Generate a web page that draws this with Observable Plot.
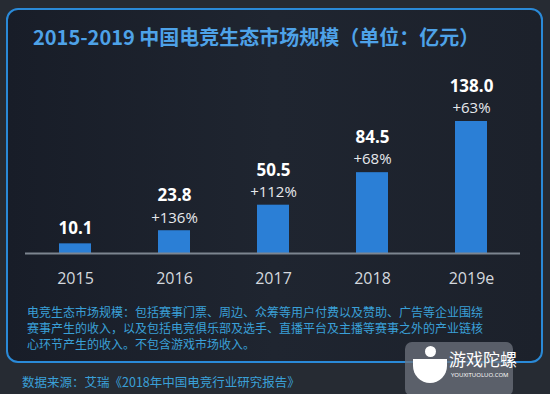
<!DOCTYPE html>
<html>
<head>
<meta charset="utf-8">
<script src="https://cdn.jsdelivr.net/npm/d3@7"></script>
<script src="https://cdn.jsdelivr.net/npm/@observablehq/plot@0.6"></script>
<style>
  html, body { margin: 0; padding: 0; }
  body {
    width: 550px; height: 394px; overflow: hidden; position: relative;
    background: #262b33;
    font-family: "Noto Sans CJK SC", "Open Sans", sans-serif;
  }
  #box {
    position: absolute; left: 6px; top: 8px; width: 533px; height: 351px;
    border: 2px solid #2a8ad8; border-radius: 12px;
    background: linear-gradient(90deg, #181d28 0%, #1f2530 50%, #1c212b 100%);
  }
  #title {
    position: absolute; left: 33px; top: 22px; width: 446px;
    font-size: 20px; font-weight: bold; color: #4ea2e8; line-height: 30px;
    white-space: nowrap; text-align: center;
  }
  #chart { position: absolute; left: 0; top: 60px; }
  #note {
    position: absolute; left: 27px; top: 304px; width: 480px;
    font-size: 12px; line-height: 16px; color: #3aa0d8; white-space: nowrap;
  }
  #source {
    position: absolute; left: 22px; top: 373px;
    font-size: 12.5px; line-height: 18px; color: #3aa0d8; white-space: nowrap;
  }
  #wm {
    position: absolute; left: 405px; top: 342px; width: 108px; height: 54px;
    background: rgba(110,115,125,0.75); border-radius: 7px;
  }
  #wm .dot { position: absolute; left: 20px; top: 4px; width: 11px; height: 11px; border-radius: 50%; background: #fff; }
  #wm .cup { position: absolute; left: 8px; top: 17px; width: 34px; height: 24px; border-radius: 0 0 17px 17px; background: #fff; }
  #wm .t1 { position: absolute; left: 44px; top: 6px; font-size: 17px; color: #fff; line-height: 22px; white-space: nowrap; }
  #wm .t2 { position: absolute; left: 46px; top: 29px; font-size: 6px; color: #fff; line-height: 8px; white-space: nowrap; font-family: "Open Sans", sans-serif; }
</style>
</head>
<body>
<div id="box"></div>
<div id="title">2015-2019 中国电竞生态市场规模（单位：亿元）</div>
<div id="chart"></div>
<div id="note">电竞生态市场规模：包括赛事门票、周边、众筹等用户付费以及赞助、广告等企业围绕<br>赛事产生的收入，以及包括电竞俱乐部及选手、直播平台及主播等赛事之外的产业链核<br>心环节产生的收入。不包含游戏市场收入。</div>
<div id="source">数据来源：艾瑞《2018年中国电竞行业研究报告》</div>
<div id="wm"><div class="dot"></div><div class="cup"></div><div class="t1">游戏陀螺</div><div class="t2">YOUXITUOLUO.COM</div></div>
<script>
const years = ["2015", "2016", "2017", "2018", "2019e"];
const values = [10.1, 23.8, 50.5, 84.5, 138.0];
const growth = ["", "+136%", "+112%", "+68%", "+63%"];

const data = years.map((y, i) => ({year: y, value: values[i], growth: growth[i]}));
const withGrowth = data.filter(d => d.growth !== "");
const noGrowth = data.filter(d => d.growth === "");

const chart = Plot.plot({
  width: 550,
  height: 235,
  marginLeft: 25,
  marginRight: 30,
  marginTop: 61,
  marginBottom: 42,
  style: {background: "transparent", fontFamily: "'Open Sans', 'Noto Sans CJK SC', sans-serif"},
  x: {domain: years, paddingInner: 0.677, paddingOuter: 0.3385, label: null},
  y: {domain: [0, 138], axis: null},
  marks: [
    Plot.barY(data, {x: "year", y: "value", fill: "#2b7fd6"}),
    Plot.ruleY([0], {stroke: "#7d8590", strokeWidth: 2}),
    Plot.axisX({tickSize: 0, tickPadding: 19, fontSize: 16, color: "#d4d8de", label: null}),
    Plot.text(withGrowth, {x: "year", y: "value", text: d => d.value.toFixed(1),
      dy: -35, fill: "#ffffff", fontSize: 17, fontWeight: "bold"}),
    Plot.text(noGrowth, {x: "year", y: "value", text: d => d.value.toFixed(1),
      dy: -15, fill: "#ffffff", fontSize: 17, fontWeight: "bold"}),
    Plot.text(withGrowth, {x: "year", y: "value", text: "growth",
      dy: -13, fill: "#e6e8ec", fontSize: 15})
  ]
});
document.getElementById("chart").appendChild(chart);
</script>
</body>
</html>
